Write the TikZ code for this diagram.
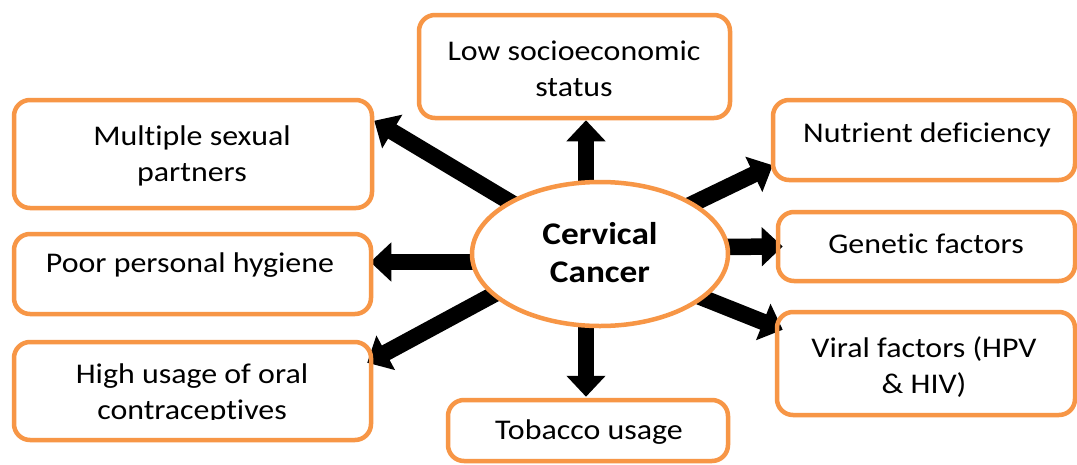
\documentclass[tikz,border=0pt]{standalone}
\usepackage{fontspec}
\setmainfont{Carlito}[FakeStretch=1.12,Ligatures=NoCommon]
\usetikzlibrary{arrows.meta,calc,shapes.geometric,backgrounds}
\definecolor{boxorange}{RGB}{247,150,70}
\begin{document}
\begin{tikzpicture}[x=1pt,y=-1pt,
  factor/.style={draw=boxorange, line width=4.5pt, rounded corners=16pt, inner sep=0pt},
  lbl/.style={font=\fontsize{28.5}{36}\selectfont, align=center, inner sep=0pt, text=black},
  centre/.style={draw=boxorange, line width=4.5pt, ellipse, fill=white, inner sep=0pt,
    minimum width=256pt, minimum height=144pt},
  ctext/.style={font=\fontsize{31.5}{38}\selectfont\bfseries, align=center, inner sep=0pt},
  bigarrow/.style={line width=16.5pt, draw=black, -{Triangle[width=38pt,length=21pt]}}]
\useasboundingbox (0,0) rectangle (1077,464);

% boxes
\node[factor, minimum width=311pt, minimum height=103pt] (low) at (574.5,66.5) {};
\node[factor, minimum width=358pt, minimum height=108pt] (msp) at (193,154) {};
\node[factor, minimum width=357pt, minimum height=80pt] (pph) at (192.5,274) {};
\node[factor, minimum width=357pt, minimum height=98pt] (huoc) at (192.5,391) {};
\node[factor, minimum width=280pt, minimum height=61pt] (tob) at (588,430.5) {};
\node[factor, minimum width=302pt, minimum height=80pt] (nut) at (924,140) {};
\node[factor, minimum width=297pt, minimum height=69pt] (gen) at (926.5,246.5) {};
\node[factor, minimum width=298pt, minimum height=103pt] (vir) at (926,363.5) {};

% texts
\node[lbl] (tlow) at (574,69) {Low socioeconomic\\status};
\node[lbl] (tmsp) at (192,156) {Multiple sexual\\partners};
\node[lbl] (tpph) at (190,265) {Poor personal hygiene};
\begin{scope}
\clip (14,342) rectangle (371,419);
\node[lbl] (thuoc) at (192,394) {High usage of oral\\contraceptives};
\end{scope}
\node[lbl] (ttob) at (589,432) {Tobacco usage};
\node[lbl] (tnut) at (927,135) {Nutrient deficiency};
\node[lbl] (tgen) at (926,244) {Genetic factors};
\node[lbl] (tvir) at (924,367) {Viral factors (HPV\\\& HIV)};

% centre
\node[centre] (cc) at (600,254) {};
\node[ctext] (tcc) at (600,253) {Cervical\\Cancer};

% arrows
\begin{pgfonlayer}{background}
\fill[white] (0,0) rectangle (1077,464);
\draw[bigarrow] ($(cc.center)+(-14,-62)$) -- ($(low.south)+(11.5,0)$);
\draw[bigarrow] ($(cc.center)+(-85,-49)$) -- ($(msp.north east)+(0,23)$);
\draw[bigarrow] ($(cc.center)+(-120,8)$) -- ($(pph.east)+(-3,-12)$);
\draw[bigarrow] ($(cc.center)+(-98,36)$) -- ($(huoc.north east)+(-6,23)$);
\draw[bigarrow] ($(cc.center)+(-14,62)$) -- ($(tob.north)+(-2,-1)$);
\draw[bigarrow] ($(cc.center)+(85,-46.5)$) -- ($(nut.south west)+(2,-17)$);
\draw[bigarrow] ($(cc.center)+(118,-7)$) -- ($(gen.west)+(7,0)$);
\draw[bigarrow] ($(cc.center)+(83,36)$) -- ($(vir.north west)+(8,20)$);
\end{pgfonlayer}
\end{tikzpicture}
\end{document}
